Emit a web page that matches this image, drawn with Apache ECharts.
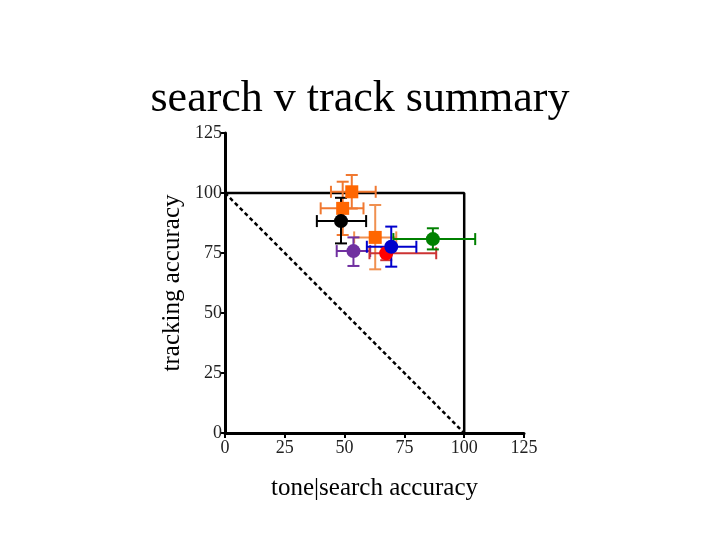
<!DOCTYPE html>
<html><head><meta charset="utf-8">
<script src="https://cdn.jsdelivr.net/npm/echarts@6/dist/echarts.min.js"></script>
<style>html,body{margin:0;padding:0;background:#fff}#c{width:720px;height:540px}</style>
</head><body><div id="c"></div>
<script>
// Each point: name, x, y, xLow, xHigh, yLow, yHigh
var names   = ['orangeA','orangeB','black','orangeC','purple','red','blue','green'];
var xVals   = [53.0, 49.2, 48.5, 62.8, 53.7, 67.4, 69.5, 86.9];
var yVals   = [100.5, 93.6, 88.3, 81.5, 75.8, 74.9, 77.6, 80.8];
var xLow    = [44.3, 40.0, 38.4, 54.0, 46.7, 60.4, 59.3, 70.4];
var xHigh   = [63.0, 57.9, 59.0, 71.6, 60.7, 88.3, 80.0, 104.6];
var yLow    = [93.5, 82.5, 79.0, 68.2, 69.6, 72.0, 69.3, 76.5];
var yHigh   = [107.5, 104.7, 98.0, 95.0, 81.5, 77.5, 86.0, 85.3];
var markColors = ['#ff6600','#ff6600','#000000','#ff6600','#7030a0','#ff0000','#0000cc','#008000'];
var barColors  = ['#f07830','#f07830','#000000','#f09050','#7030a0','#cc3333','#0000cc','#008000'];
var symbols    = ['rect','rect','circle','rect','circle','circle','circle','circle'];
var boxLine  = [[0,100],[100,100],[100,0]];
var diagLine = [[0,100],[100,0]];
var tickVals = [0,25,50,75,100,125];

var serif = '"Liberation Serif","DejaVu Serif",serif';
var series = [
  {type:'line', data:diagLine, symbol:'none', lineStyle:{color:'#000',width:2.5,type:[4,3]}, z:1, silent:true},
  {type:'line', data:boxLine, symbol:'none', lineStyle:{color:'#000',width:2.5}, z:1, silent:true}
];
for (var i=0;i<names.length;i++){
  (function(i){
    var c = barColors[i];
    series.push({
      type:'custom', z:2,
      data:[[xVals[i],yVals[i],xLow[i],xHigh[i],yLow[i],yHigh[i]]],
      renderItem:function(params, api){
        var xl = api.coord([api.value(2),api.value(1)]);
        var xh = api.coord([api.value(3),api.value(1)]);
        var yl = api.coord([api.value(0),api.value(4)]);
        var yh = api.coord([api.value(0),api.value(5)]);
        var cap = 6, st = {stroke:c, lineWidth:2};
        var ls = function(a,b){return {type:'line',shape:{x1:a[0],y1:a[1],x2:b[0],y2:b[1]},style:st};};
        return {type:'group', children:[
          ls(xl,xh), ls(yl,yh),
          ls([xl[0],xl[1]-cap],[xl[0],xl[1]+cap]),
          ls([xh[0],xh[1]-cap],[xh[0],xh[1]+cap]),
          ls([yl[0]-cap,yl[1]],[yl[0]+cap,yl[1]]),
          ls([yh[0]-cap,yh[1]],[yh[0]+cap,yh[1]])
        ]};
      }
    });
    series.push({
      type:'scatter', z:3, symbol:symbols[i], symbolSize: symbols[i]==='rect'?13:14,
      itemStyle:{color:markColors[i], opacity:1},
      data:[[xVals[i],yVals[i]]]
    });
  })(i);
}

var axisCommon = {
  min:0, max:125, interval:25,
  axisLine:{show:true, onZero:false, lineStyle:{color:'#000',width:3}},
  axisTick:{show:true, length:5, lineStyle:{color:'#000',width:2}},
  axisLabel:{color:'#222', fontFamily:serif, fontSize:18, margin:3},
  splitLine:{show:false},
  nameLocation:'middle',
  nameTextStyle:{color:'#000', fontFamily:serif, fontSize:25}
};
var chart = echarts.init(document.getElementById('c'));
chart.setOption({
  animation:false,
  title:{text:'search v track summary', left:'center', top:72,
    textStyle:{fontFamily:serif, fontSize:44, fontWeight:'normal', color:'#000'}},
  grid:{left:225, right:196, top:133, bottom:107, containLabel:false},
  xAxis:Object.assign({}, axisCommon, {type:'value', name:'tone|search accuracy', nameGap:43,
    axisLabel:Object.assign({}, axisCommon.axisLabel, {margin:6})}),
  yAxis:Object.assign({}, axisCommon, {type:'value', name:'tracking accuracy', nameGap:40}),
  series:series
});
</script></body></html>
